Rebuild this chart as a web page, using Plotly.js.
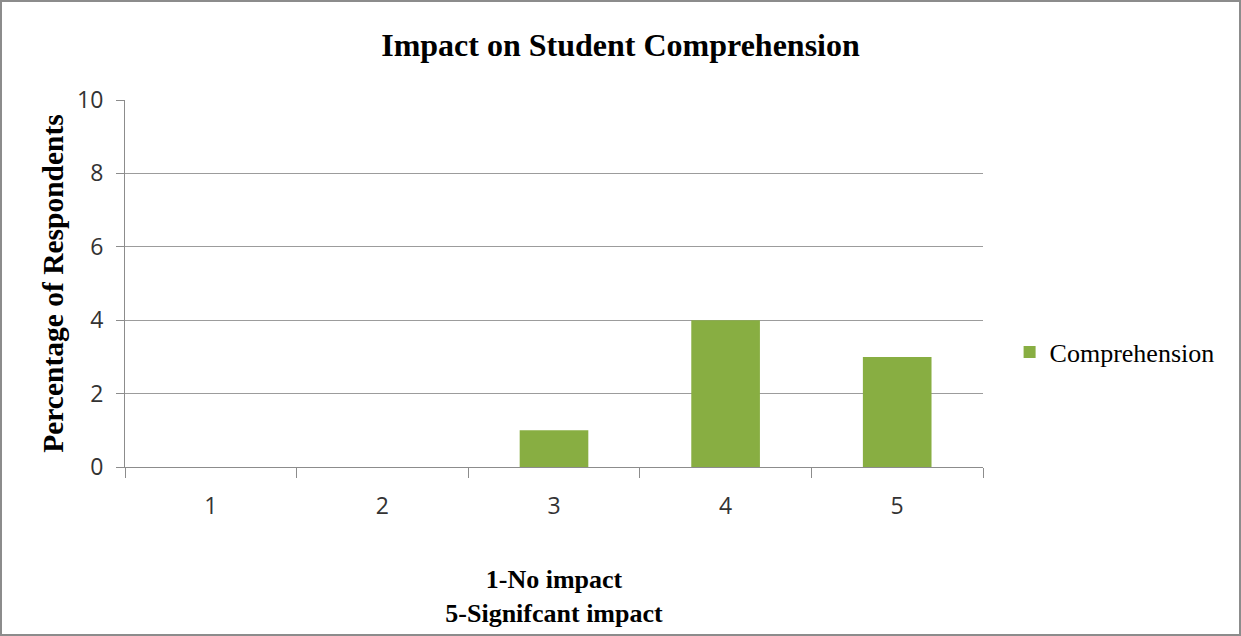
<!DOCTYPE html>
<html>
<head>
<meta charset="utf-8">
<script src="https://cdn.plot.ly/plotly-3.0.1.min.js"></script>
<style>
html,body{margin:0;padding:0;background:#fff;}
#chart{width:1241px;height:636px;box-sizing:border-box;border:2px solid #8c8c8c;}
</style>
</head>
<body>
<div id="chart"></div>
<script>
const categories = ["1", "2", "3", "4", "5"];
const comprehension = [0, 0, 1, 4, 3];
const seriesName = "Comprehension";
const yTicks = [0, 2, 4, 6, 8, 10];

const trace = {
  type: "bar",
  x: categories,
  y: comprehension,
  name: seriesName,
  width: 0.4,
  marker: {color: "#88AE42", line: {width: 0}},
  showlegend: true
};

const layout = {
  width: 1237, height: 632,
  margin: {l: 123, r: 256, t: 98, b: 167},
  paper_bgcolor: "#fff", plot_bgcolor: "#fff",
  title: {
    text: "Impact on Student Comprehension",
    font: {family: "Liberation Serif", size: 32, color: "#000", weight: "bold"},
    x: 0.5, xanchor: "center", y: 0.933, yanchor: "middle"
  },
  xaxis: {
    type: "category",
    tickson: "boundaries",
    ticks: "outside", ticklen: 10, tickcolor: "#8c8c8c",
    showline: true, linecolor: "#8c8c8c", linewidth: 1,
    showgrid: false,
    ticklabelstandoff: 18,
    tickfont: {family: "Open Sans", size: 23, color: "#333"},
    title: {
      text: "1-No impact<br>5-Signifcant impact",
      font: {family: "Liberation Serif", size: 26, color: "#000", weight: "bold"},
      standoff: 50
    },
    automargin: false
  },
  yaxis: {
    range: [0, 10],
    tickvals: yTicks,
    ticks: "outside", ticklen: 8, tickcolor: "#8c8c8c",
    showline: true, linecolor: "#8c8c8c", linewidth: 1,
    showgrid: true, gridcolor: "#9c9c9c", gridwidth: 1,
    zeroline: false,
    ticklabelstandoff: 8,
    tickfont: {family: "Open Sans", size: 23, color: "#333"},
    title: {
      text: "Percentage of Respondents",
      font: {family: "Liberation Serif", size: 29.5, color: "#000", weight: "bold"},
      standoff: 4
    },
    automargin: false
  },
  legend: {
    x: 1.031, xanchor: "left", y: 0.313, yanchor: "middle",
    font: {family: "Liberation Serif", size: 26, color: "#000"},
    itemwidth: 30
  },
  bargap: 0.6
};

Plotly.newPlot("chart", [trace], layout, {displayModeBar: false, staticPlot: true});
</script>
</body>
</html>
